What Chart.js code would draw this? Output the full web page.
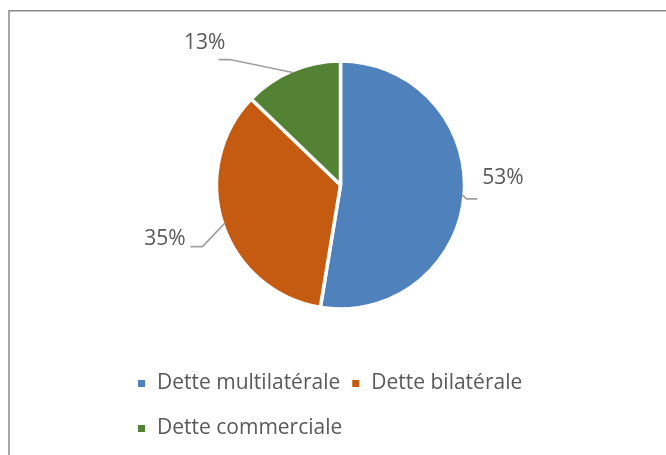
<!DOCTYPE html>
<html><head><meta charset="utf-8">
<script src="https://cdn.jsdelivr.net/npm/chart.js@4.4.0/dist/chart.umd.min.js"></script>
<style>html,body{margin:0;padding:0;background:#fff;overflow:hidden}#wrap{position:relative;width:666px;height:455px}</style>
</head><body><div id="wrap"><canvas id="c" width="666" height="455"></canvas></div>
<script>
// ---- data ----
const categories = ['Dette multilatérale', 'Dette bilatérale', 'Dette commerciale'];
const values = [52.6, 34.6, 12.8];
const colors = ['#4f81bd', '#c55a11', '#548235'];

// ---- styling for label leaders (offsets relative to slice mid-point on the arc) ----
const leaderStyle = [
  { elbow: [4, 4],    end: [11, 0],  text: [25.5, -20.5] },
  { elbow: [-22, 23], end: [-12, 0], text: [-25.5, -7.5] },
  { elbow: [-63, -13], end: [-11, 0], text: [-14, -16.5] }
];
const TEXT_COLOR = '#595959';
const FONT = '"Open Sans", "Noto Sans", sans-serif';
const BORDER = 3.5;

const overlay = {
  id: 'overlay',
  beforeDraw(chart) {
    const ctx = chart.ctx;
    ctx.save();
    ctx.fillStyle = '#fff';
    ctx.fillRect(0, 0, chart.width, chart.height);
    ctx.restore();
  },
  afterDraw(chart) {
    const ctx = chart.ctx;
    ctx.save();
    // frame
    ctx.strokeStyle = '#8a8a8a';
    ctx.lineWidth = 1.5;
    ctx.strokeRect(9, 10.75, 800, 600);

    const meta = chart.getDatasetMeta(0);
    const total = values.reduce((a, b) => a + b, 0);
    meta.data.forEach((arc, i) => {
      const mid = (arc.startAngle + arc.endAngle) / 2;
      const r = arc.outerRadius - BORDER / 2;
      const px = arc.x + r * Math.cos(mid);
      const py = arc.y + r * Math.sin(mid);
      const s = leaderStyle[i];
      const ex = px + s.elbow[0], ey = py + s.elbow[1];
      const fx = ex + s.end[0], fy = ey + s.end[1];
      ctx.strokeStyle = '#a0a0a0';
      ctx.lineWidth = 1.75;
      ctx.beginPath();
      ctx.moveTo(px, py); ctx.lineTo(ex, ey); ctx.lineTo(fx, fy);
      ctx.stroke();
      ctx.fillStyle = TEXT_COLOR;
      ctx.font = '21px ' + FONT;
      ctx.textAlign = 'center';
      ctx.textBaseline = 'middle';
      const pct = Math.round(values[i] / total * 100) + '%';
      ctx.fillText(pct, fx + s.text[0], fy + s.text[1]);
    });

    // legend
    ctx.font = '21px ' + FONT;
    ctx.textAlign = 'left';
    ctx.textBaseline = 'middle';
    const rows = [[0, 1], [2]];
    const rowY = [383.5, 428.5];
    rows.forEach((row, ri) => {
      let x = 138;
      row.forEach(i => {
        ctx.fillStyle = colors[i];
        ctx.fillRect(x, rowY[ri] - 3.5, 7, 7);
        ctx.fillStyle = TEXT_COLOR;
        ctx.fillText(categories[i], x + 19, rowY[ri]);
        x += 19 + ctx.measureText(categories[i]).width + 12;
      });
    });
    ctx.restore();
  }
};

new Chart(document.getElementById('c'), {
  type: 'pie',
  data: {
    labels: categories,
    datasets: [{
      data: values,
      backgroundColor: colors,
      borderColor: '#ffffff',
      borderWidth: BORDER
    }]
  },
  options: {
    responsive: false,
    animation: false,
    radius: 124,
    layout: { padding: { left: 15, right: 0, top: 0, bottom: 85 } },
    plugins: { legend: { display: false }, tooltip: { enabled: false } }
  },
  plugins: [overlay]
});
</script>
</body></html>
